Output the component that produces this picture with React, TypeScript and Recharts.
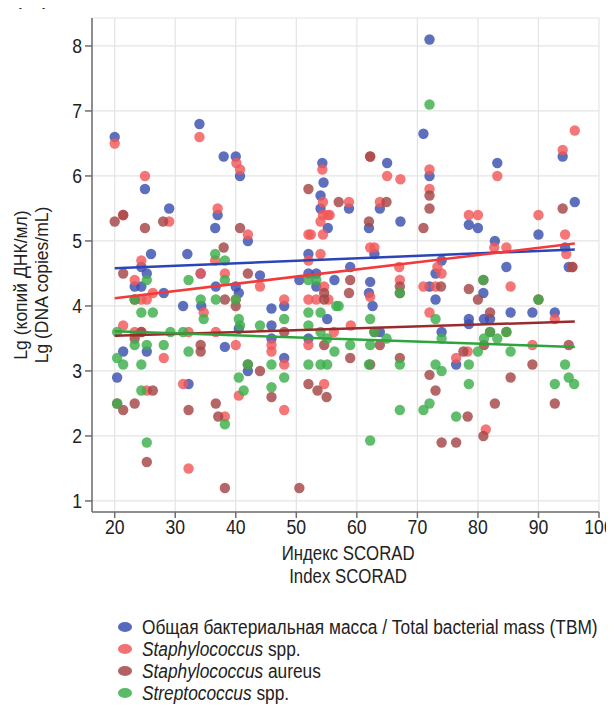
import React from 'react';
import { ScatterChart, Scatter, XAxis, YAxis, CartesianGrid } from 'recharts';

// [SCORAD index, lg DNA copies/mL]
const tbmPoints: [number, number][] = [
  [20, 6.6], [25, 5.8], [29, 5.5], [26, 4.8], [34, 6.8], [32, 4.8], [38, 6.3], [40, 6.3], [40.7, 6.0],
  [37, 5.4], [36.6, 5.2], [42, 5.0], [54.3, 6.2], [54.5, 5.9], [54, 5.7], [54, 5.5], [55.2, 5.2], [52, 4.8],
  [72, 8.1], [71, 6.65], [94, 6.3], [65, 6.2], [72, 6.0], [83.2, 6.2], [58.7, 5.5], [63.8, 5.5], [62, 5.2],
  [67.2, 5.3], [78.5, 5.25], [80, 5.2], [96, 5.6], [90, 5.1], [82.8, 5.0], [62.9, 4.8], [94.4, 4.9],
  [24.4, 4.6], [25.3, 4.5], [23.3, 4.3], [24.4, 4.3], [28.1, 4.2], [21.4, 3.3], [25.3, 3.3], [20.4, 2.9],
  [34.2, 4.5], [44, 4.47], [36.7, 4.3], [40, 4.3], [40.5, 4.2], [31.3, 4.0], [34.3, 4.0], [40.5, 3.65],
  [45.9, 3.96], [48, 4.0], [45.9, 3.7], [45.9, 3.5], [38.2, 3.37], [42, 3.0], [32.2, 2.8], [48, 3.2],
  [52, 4.5], [53.3, 4.5], [50.5, 4.4], [53.3, 4.3], [55.1, 3.8], [52, 3.5], [84.7, 4.6], [95, 4.6],
  [58.9, 4.6], [56.3, 4.4], [62.2, 4.37], [62, 4.2], [62.6, 4.0], [63.8, 3.6], [72, 4.3], [74, 4.7],
  [73, 4.5], [73, 4.1], [74, 3.6], [76.4, 3.1], [80.9, 4.2], [78.5, 3.8], [78.5, 3.72], [81, 3.8],
  [82, 3.8], [85.4, 3.9], [89, 3.9], [92.7, 3.9],
];

const staphPoints: [number, number][] = [
  [20, 6.5], [25, 6.0], [21.4, 5.4], [29, 5.3], [24.4, 4.7], [34, 6.6], [40.1, 6.2], [40.7, 6.1], [37, 5.5],
  [42, 5.1], [36.6, 4.7], [54.3, 6.1], [54.4, 5.6], [54.4, 5.4], [55.2, 5.4], [54, 5.3], [52, 5.1],
  [52.4, 5.1], [54.4, 5.1], [54, 4.8], [96, 6.7], [94, 6.4], [62.2, 6.3], [65, 6.0], [67.2, 5.95],
  [72, 6.1], [72, 5.8], [83.2, 6.0], [58.7, 5.6], [55.5, 5.4], [63.8, 5.6], [78.5, 5.4], [80, 5.4],
  [90, 5.4], [94.4, 5.1], [82.7, 4.9], [84.7, 4.9], [62.2, 4.9], [62.9, 4.9], [94.6, 4.8], [23.3, 4.4],
  [26.3, 4.2], [24.4, 4.1], [25.3, 4.1], [21.4, 3.7], [23.3, 3.6], [24.4, 3.6], [28.1, 3.2], [25.3, 2.7],
  [32.2, 1.5], [34.2, 4.5], [38.2, 4.5], [44, 4.3], [40, 4.1], [34.7, 3.9], [48, 4.1], [45.9, 3.4],
  [45.9, 3.3], [32.2, 3.6], [36.7, 3.6], [40, 3.4], [40.5, 2.62], [31.3, 2.8], [38.2, 2.3], [48, 3.1],
  [48, 2.4], [52, 4.7], [54.6, 4.3], [52, 4.1], [53.3, 4.1], [55.3, 4.1], [52, 3.4], [54.6, 2.8],
  [85.4, 4.3], [95.6, 4.6], [59, 3.7], [56.2, 3.6], [62.2, 4.14], [67.1, 4.4], [67, 4.6], [71, 4.3],
  [73, 4.3], [73.3, 4.6], [74, 4.5], [72, 3.9], [76.4, 3.2], [78.3, 3.3], [81.3, 2.1], [89, 3.4], [92.7, 3.8],
];

const aureusPoints: [number, number][] = [
  [20, 5.3], [21.4, 5.4], [25, 5.2], [28, 5.3], [40.7, 5.2], [38, 4.9], [52, 5.8], [57, 5.6], [62.2, 6.3],
  [72, 5.7], [72, 5.5], [64.9, 5.6], [62, 5.3], [71, 5.2], [94, 5.5], [21.4, 4.5], [23.3, 4.1], [24.4, 3.6],
  [23.3, 3.5], [26.3, 2.7], [20.4, 2.5], [21.4, 2.4], [23.3, 2.5], [25.3, 1.6], [38.2, 1.2], [50.5, 1.2],
  [42, 4.5], [38.2, 4.1], [40, 4.0], [48, 3.6], [34.2, 3.4], [34.2, 3.3], [42, 3.1], [44, 3.0], [32.2, 2.4],
  [36.7, 2.5], [37.1, 2.3], [45.9, 2.6], [54.6, 4.2], [54.6, 4.1], [54.6, 3.4], [52, 2.8], [53.5, 2.7],
  [55, 2.6], [95.6, 4.6], [58.9, 4.4], [58.7, 4.2], [58.9, 3.2], [62.9, 3.6], [63.8, 3.4], [62.2, 3.1],
  [67.1, 4.3], [67.1, 4.2], [67.1, 3.2], [73.9, 4.3], [72, 2.94], [73, 2.7], [74, 1.9], [76.4, 1.9],
  [78.3, 2.3], [77.6, 3.3], [82.8, 2.5], [80.9, 2.0], [78.5, 4.26], [80, 4.1], [80.9, 4.4], [82, 3.9],
  [82, 3.6], [81, 3.4], [84.7, 3.6], [85.4, 2.9], [90, 4.1], [89, 3.1], [92.7, 2.5], [95, 3.4],
];

const streptoPoints: [number, number][] = [
  [36.6, 4.8], [38.2, 4.7], [72, 7.1], [25.3, 4.4], [23.3, 4.1], [24.4, 3.9], [26.3, 3.9], [20.4, 3.6],
  [23.3, 3.4], [25.3, 3.4], [28.1, 3.4], [20.4, 3.2], [21.4, 3.1], [24.4, 3.1], [24.4, 2.7], [20.4, 2.5],
  [25.3, 1.9], [32.2, 4.4], [38.2, 4.4], [34.2, 4.1], [36.7, 4.1], [40, 4.1], [34.7, 3.8], [40.5, 3.8],
  [40.7, 3.7], [48, 3.8], [44, 3.7], [29.2, 3.6], [31.3, 3.6], [32.2, 3.3], [42, 3.1], [40.5, 2.9],
  [41.3, 2.7], [38.2, 2.18], [45.9, 3.1], [45.9, 2.75], [48, 2.9], [52, 4.4], [53.3, 4.4], [52, 3.9],
  [54, 3.9], [56.6, 4.0], [52, 3.7], [54, 3.6], [55.1, 3.5], [56.3, 3.3], [52, 3.1], [54, 3.1], [55.1, 3.1],
  [57, 4.0], [58.9, 3.4], [62.2, 3.8], [62.9, 3.6], [62.2, 3.4], [64.9, 3.5], [62, 3.1], [62.2, 1.93],
  [67.1, 4.2], [67.1, 3.1], [67.1, 2.4], [73, 3.8], [74, 3.5], [73, 3.1], [74, 3.0], [72, 2.5], [71, 2.4],
  [76.4, 2.3], [78.5, 3.1], [78.5, 2.8], [80.9, 4.4], [82, 3.6], [81, 3.5], [83.2, 3.5], [80, 3.3],
  [84.7, 3.6], [85.4, 3.3], [90, 4.1], [92.7, 2.8], [94.4, 3.1], [95, 2.9], [95.9, 2.8],
];

// regression line end points
const tbmFit: [number, number][] = [[20, 4.58], [96, 4.87]];
const staphFit: [number, number][] = [[20, 4.12], [96, 4.96]];
const aureusFit: [number, number][] = [[20, 3.54], [96, 3.76]];
const streptoFit: [number, number][] = [[20, 3.61], [96, 3.37]];

const xTicks = [20, 30, 40, 50, 60, 70, 80, 90, 100];
const yTicks = [1, 2, 3, 4, 5, 6, 7, 8];

const FONT = "'Liberation Sans', Arial, sans-serif";
const NARROW = 0.84; // the original uses a condensed face

const toXY = (pts: [number, number][]) => pts.map(([x, y]) => ({ x, y }));

const series = [
  { name: 'tbm', pts: tbmPoints, fit: tbmFit, color: '#3a4fb0', line: '#2b45b8' },
  { name: 'staph', pts: staphPoints, fit: staphFit, color: '#f25858', line: '#f23a3a' },
  { name: 'aureus', pts: aureusPoints, fit: aureusFit, color: '#a54646', line: '#9a2b2b' },
  { name: 'strepto', pts: streptoPoints, fit: streptoFit, color: '#3cae4c', line: '#2ea43c' },
];

const legendItems = [
  { color: '#3a4fb0', italic: '', rest: 'Общая бактериальная масса / Total bacterial mass (TBM)' },
  { color: '#f25858', italic: 'Staphylococcus', rest: ' spp.' },
  { color: '#a54646', italic: 'Staphylococcus', rest: ' aureus' },
  { color: '#3cae4c', italic: 'Streptococcus', rest: ' spp.' },
];

const X_DOMAIN: [number, number] = [16.25, 100];
const Y_DOMAIN: [number, number] = [0.83, 8.43];

const XTick = ({ x, y, payload }: any) => (
  <text transform={`translate(${x},${y + 16}) scale(${NARROW},1)`} textAnchor="middle" fontSize={21} fill="#222" fontFamily={FONT}>
    {payload.value}
  </text>
);

const YTick = ({ x, y, payload }: any) => (
  <text transform={`translate(${x},${y + 7.5}) scale(${NARROW},1)`} textAnchor="end" fontSize={21} fill="#222" fontFamily={FONT}>
    {payload.value}
  </text>
);

const Narrow = ({ children, style, k = NARROW }: any) => (
  <span style={{ display: 'inline-block', transform: `scaleX(${k})`, whiteSpace: 'nowrap', ...style }}>{children}</span>
);

export default function App() {
  const axisColor = '#6e6e6e';
  return (
    <div style={{ position: 'relative', width: 606, height: 701, fontFamily: FONT, color: '#222' }}>
      <div style={{ position: 'absolute', left: 6, top: -26, fontSize: 24, whiteSpace: 'pre' }}>(   )</div>
      <ScatterChart width={606} height={540} margin={{ top: 10, right: 15, bottom: 10, left: 0 }} style={{ overflow: 'visible' }}>
        <CartesianGrid stroke="#e4e4e4" strokeWidth={1.2} />
        <XAxis
          type="number"
          dataKey="x"
          domain={X_DOMAIN}
          ticks={xTicks}
          allowDataOverflow
          height={26}
          tickSize={6}
          tickMargin={0}
          tick={<XTick />}
          stroke={axisColor}
          strokeWidth={1.5}
        />
        <XAxis xAxisId="top" orientation="top" type="number" domain={X_DOMAIN} allowDataOverflow
          height={0} tick={false} tickLine={false} stroke={axisColor} strokeWidth={1.5} />
        <YAxis
          type="number"
          dataKey="y"
          domain={Y_DOMAIN}
          ticks={yTicks}
          allowDataOverflow
          width={84}
          tickSize={7}
          tickMargin={3}
          tick={<YTick />}
          stroke={axisColor}
          strokeWidth={1.5}
        />
        <YAxis yAxisId="right" orientation="right" type="number" domain={Y_DOMAIN} allowDataOverflow
          width={0} tick={false} tickLine={false} stroke={axisColor} strokeWidth={1.5} />
        {series.map((s) => (
          <Scatter
            key={s.name}
            data={toXY(s.pts)}
            isAnimationActive={false}
            shape={(p: any) => <circle cx={p.cx} cy={p.cy} r={5.2} fill={s.color} fillOpacity={0.82} />}
          />
        ))}
        {series.map((s) => (
          <Scatter
            key={s.name + '-fit'}
            data={toXY(s.fit)}
            isAnimationActive={false}
            line={{ stroke: s.line, strokeWidth: 2.5 }}
            shape={() => <g />}
          />
        ))}
      </ScatterChart>
      <div style={{ position: 'absolute', left: 40, width: 600, top: 534, textAlign: 'center', fontSize: 20, lineHeight: '23px' }}>
        <div><Narrow>Индекс SCORAD</Narrow></div>
        <div><Narrow>Index SCORAD</Narrow></div>
      </div>
      <div
        style={{
          position: 'absolute',
          left: 24 - 150,
          top: 277 - 21,
          width: 300,
          height: 42,
          transform: 'rotate(-90deg)',
          textAlign: 'center',
          fontSize: 17.5,
          lineHeight: '21px',
          whiteSpace: 'nowrap',
        }}
      >
        <div>Lg (копий ДНК/мл)</div>
        <div>Lg (DNA copies/mL)</div>
      </div>
      <div style={{ position: 'absolute', left: 110, top: 608, width: 620 }}>
        {legendItems.map((l) => (
          <div key={l.rest + l.italic} style={{ display: 'flex', alignItems: 'center', height: 22, fontSize: 20 }}>
            <span style={{ display: 'inline-block', flexShrink: 0, width: 14, height: 10, borderRadius: '50%', background: l.color, opacity: 0.85, marginRight: 10 }} />
            <Narrow k={0.865} style={{ transformOrigin: 'left center', flexShrink: 0 }}>
              {l.italic && <i>{l.italic}</i>}
              {l.rest}
            </Narrow>
          </div>
        ))}
      </div>
    </div>
  );
}
